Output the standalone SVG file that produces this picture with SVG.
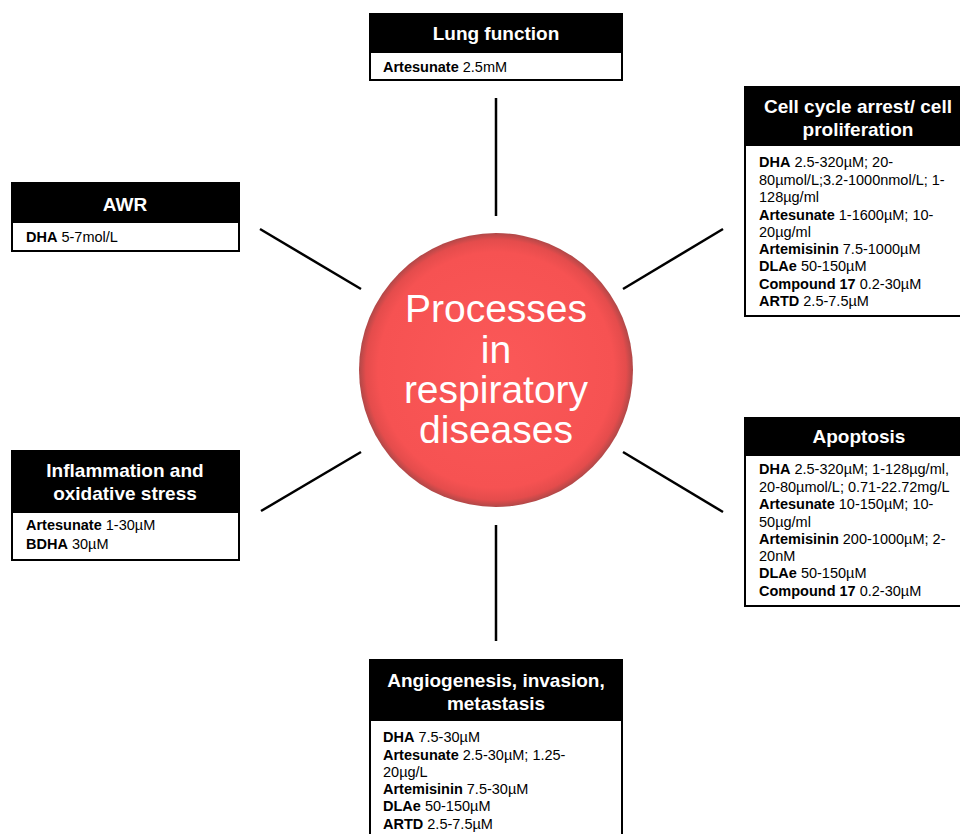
<svg xmlns="http://www.w3.org/2000/svg" width="960" height="834" viewBox="0 0 960 834">
<defs>
<radialGradient id="ball" cx="50%" cy="50%" r="50%">
<stop offset="0%" stop-color="#fb5858"/>
<stop offset="86%" stop-color="#f65252"/>
<stop offset="95%" stop-color="#e44c4c"/>
<stop offset="100%" stop-color="#b04848"/>
</radialGradient>
</defs>
<style>
.hdr{fill:#000;stroke:#000;stroke-width:2}
.body{fill:#fff;stroke:#000;stroke-width:2}
.ttl{font-family:"Liberation Sans",Arial,sans-serif;font-weight:bold;font-size:19px;fill:#fff;text-anchor:middle}
.txt{font-family:"Liberation Sans",Arial,sans-serif;font-size:14.5px;fill:#000}
.b{font-weight:bold}
.con line{stroke:#000;stroke-width:2.5}
.ctr{font-family:"Liberation Sans",Arial,sans-serif;font-size:39px;fill:#fff;text-anchor:middle}
</style>
<rect width="960" height="834" fill="#fff"/>
<g class="con" id="connectors">
<line x1="496" y1="98" x2="496" y2="216"/>
<line x1="496" y1="525" x2="496" y2="641"/>
<line x1="260" y1="229" x2="361" y2="289"/>
<line x1="261" y1="511" x2="361" y2="452"/>
<line x1="623" y1="289" x2="723" y2="229"/>
<line x1="623" y1="452" x2="723" y2="512"/>
</g>
<g id="center">
<circle cx="496" cy="370" r="137" fill="url(#ball)"/>
<text class="ctr" x="496" y="322">Processes</text>
<text class="ctr" x="496" y="363">in</text>
<text class="ctr" x="496" y="403">respiratory</text>
<text class="ctr" x="496" y="443">diseases</text>
</g>
<g id="lung">
<rect class="body" x="370" y="14" width="252" height="66"/>
<rect class="hdr" x="370" y="14" width="252" height="38"/>
<text class="ttl" x="496" y="40">Lung function</text>
<text class="txt" x="383" y="72"><tspan class="b">Artesunate</tspan> 2.5mM</text>
</g>
<g id="cellcycle">
<rect class="body" x="745" y="87" width="220" height="229"/>
<rect class="hdr" x="745" y="87" width="220" height="58"/>
<text class="ttl" x="858" y="113">Cell cycle arrest/ cell</text>
<text class="ttl" x="858" y="136">proliferation</text>
<text class="txt" x="759" y="167"><tspan class="b">DHA</tspan> 2.5-320µM; 20-</text>
<text class="txt" x="759" y="184.5">80µmol/L;3.2-1000nmol/L; 1-</text>
<text class="txt" x="759" y="202">128µg/ml</text>
<text class="txt" x="759" y="219.5"><tspan class="b">Artesunate</tspan> 1-1600µM; 10-</text>
<text class="txt" x="759" y="237">20µg/ml</text>
<text class="txt" x="759" y="254"><tspan class="b">Artemisinin</tspan> 7.5-1000µM</text>
<text class="txt" x="759" y="271"><tspan class="b">DLAe</tspan> 50-150µM</text>
<text class="txt" x="759" y="288.5"><tspan class="b">Compound 17</tspan> 0.2-30µM</text>
<text class="txt" x="759" y="306"><tspan class="b">ARTD</tspan> 2.5-7.5µM</text>
</g>
<g id="apoptosis">
<rect class="body" x="745" y="418" width="220" height="188"/>
<rect class="hdr" x="745" y="418" width="220" height="37"/>
<text class="ttl" x="859" y="443">Apoptosis</text>
<text class="txt" x="759" y="474"><tspan class="b">DHA</tspan> 2.5-320µM; 1-128µg/ml,</text>
<text class="txt" x="759" y="491.5">20-80µmol/L; 0.71-22.72mg/L</text>
<text class="txt" x="759" y="509"><tspan class="b">Artesunate</tspan> 10-150µM; 10-</text>
<text class="txt" x="759" y="526.5">50µg/ml</text>
<text class="txt" x="759" y="544"><tspan class="b">Artemisinin</tspan> 200-1000µM; 2-</text>
<text class="txt" x="759" y="561">20nM</text>
<text class="txt" x="759" y="578"><tspan class="b">DLAe</tspan> 50-150µM</text>
<text class="txt" x="759" y="596"><tspan class="b">Compound 17</tspan> 0.2-30µM</text>
</g>
<g id="angiogenesis">
<rect class="body" x="370" y="660" width="252" height="180"/>
<rect class="hdr" x="370" y="660" width="252" height="60"/>
<text class="ttl" x="496" y="687">Angiogenesis, invasion,</text>
<text class="ttl" x="496" y="710">metastasis</text>
<text class="txt" x="383" y="742"><tspan class="b">DHA</tspan> 7.5-30µM</text>
<text class="txt" x="383" y="759.5"><tspan class="b">Artesunate</tspan> 2.5-30µM; 1.25-</text>
<text class="txt" x="383" y="777">20µg/L</text>
<text class="txt" x="383" y="794"><tspan class="b">Artemisinin</tspan> 7.5-30µM</text>
<text class="txt" x="383" y="811"><tspan class="b">DLAe</tspan> 50-150µM</text>
<text class="txt" x="383" y="829"><tspan class="b">ARTD</tspan> 2.5-7.5µM</text>
</g>
<g id="awr">
<rect class="body" x="12" y="183" width="227" height="68"/>
<rect class="hdr" x="12" y="183" width="227" height="39"/>
<text class="ttl" x="125" y="211">AWR</text>
<text class="txt" x="26" y="242"><tspan class="b">DHA</tspan> 5-7mol/L</text>
</g>
<g id="inflammation">
<rect class="body" x="12" y="451" width="227" height="109"/>
<rect class="hdr" x="12" y="451" width="227" height="61"/>
<text class="ttl" x="125" y="477">Inflammation and</text>
<text class="ttl" x="125" y="500">oxidative stress</text>
<text class="txt" x="26" y="530"><tspan class="b">Artesunate</tspan> 1-30µM</text>
<text class="txt" x="26" y="549"><tspan class="b">BDHA</tspan> 30µM</text>
</g>
</svg>
